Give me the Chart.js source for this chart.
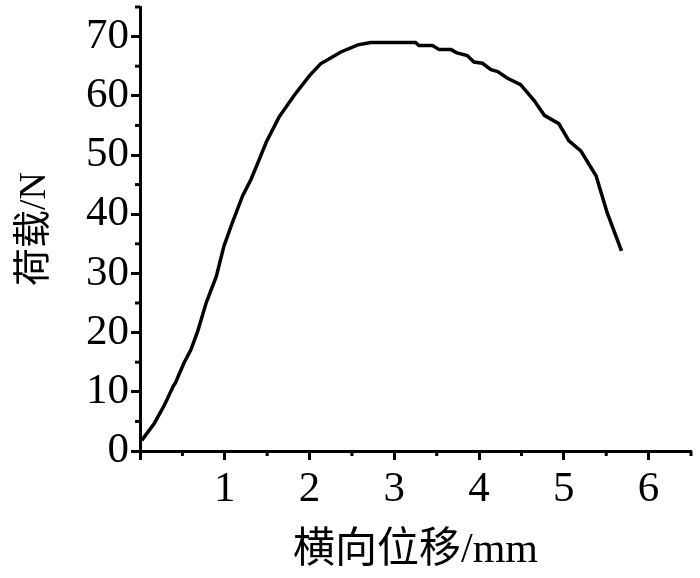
<!DOCTYPE html>
<html>
<head>
<meta charset="utf-8">
<script src="https://cdn.jsdelivr.net/npm/chart.js@4.4.0/dist/chart.umd.min.js"></script>
<style>
  body { margin: 0; background: #fff; }
  #wrap { width: 700px; height: 578px; }
</style>
</head>
<body>
<div id="wrap"><canvas id="chart"></canvas></div>
<script>
// 横向位移 (mm) vs 荷载 (N)
const displacement = [0.02, 0.17, 0.29, 0.39, 0.42, 0.52, 0.60, 0.68, 0.78, 0.90, 0.99, 1.09, 1.21,
  1.31, 1.40, 1.49, 1.64, 1.82, 2.00, 2.13, 2.37, 2.57, 2.72, 2.84, 3.25, 3.29, 3.45, 3.53,
  3.67, 3.73, 3.86, 3.94, 4.04, 4.14, 4.22, 4.33, 4.49, 4.65, 4.77, 4.94, 5.06, 5.20, 5.38,
  5.51, 5.68];
const load = [1.8, 4.7, 7.8, 10.9, 11.6, 14.9, 17.1, 20.2, 25.0, 29.5, 34.6, 38.6, 43.1,
  45.9, 49.0, 52.2, 56.4, 60.1, 63.4, 65.4, 67.4, 68.6, 69.0, 69.0, 69.0, 68.5, 68.5, 67.8,
  67.8, 67.3, 66.8, 65.7, 65.5, 64.4, 64.1, 63.0, 61.9, 59.2, 56.7, 55.3, 52.4, 50.7, 46.5,
  40.3, 33.8];

const xMajor = [0, 1, 2, 3, 4, 5, 6];
const xMinor = [0.5, 1.5, 2.5, 3.5, 4.5, 5.5, 6.5];
const yMajor = [0, 10, 20, 30, 40, 50, 60, 70];
const yMinor = [5, 15, 25, 35, 45, 55, 65, 75];

const xTitle = '横向位移/mm';
const yTitle = '荷载/N';

const fontFam = "'Liberation Serif', 'Noto Sans CJK SC', serif";

// short minor ticks drawn outward from the axes
const minorTicks = {
  id: 'minorTicks',
  afterDraw(chart) {
    const ctx = chart.ctx;
    const xs = chart.scales.x, ys = chart.scales.y;
    const a = chart.chartArea;
    ctx.save();
    ctx.strokeStyle = '#000';
    ctx.lineWidth = 3;
    xMinor.forEach(v => {
      const px = xs.getPixelForValue(v);
      ctx.beginPath();
      ctx.moveTo(px, a.bottom);
      ctx.lineTo(px, a.bottom + 5);
      ctx.stroke();
    });
    yMinor.forEach(v => {
      const py = ys.getPixelForValue(v);
      ctx.beginPath();
      ctx.moveTo(a.left, py);
      ctx.lineTo(a.left - 5, py);
      ctx.stroke();
    });
    ctx.restore();
  }
};

const ctx = document.getElementById('chart').getContext('2d');
new Chart(ctx, {
  type: 'line',
  data: {
    datasets: [{
      data: displacement.map((x, i) => ({ x: x, y: load[i] })),
      borderColor: '#000',
      borderWidth: 3.5,
      pointRadius: 0,
      tension: 0,
      fill: false
    }]
  },
  options: {
    responsive: true,
    maintainAspectRatio: false,
    animation: false,
    layout: { padding: { top: 7, right: 9 } },
    plugins: { legend: { display: false }, tooltip: { enabled: false } },
    scales: {
      x: {
        type: 'linear',
        min: 0,
        max: 6.5,
        afterBuildTicks: s => { s.ticks = xMajor.map(v => ({ value: v })); },
        afterFit: s => { s.height = 127; s.paddingLeft = 0; s.paddingRight = 0; },
        border: { display: true, color: '#000', width: 3 },
        grid: { drawOnChartArea: false, drawTicks: true, tickLength: 9, tickWidth: 3, tickColor: '#000' },
        ticks: {
          color: '#000',
          padding: 4,
          maxRotation: 0,
          font: { family: fontFam, size: 43 },
          callback: v => (v === 0 ? '' : v)
        },
        title: {
          display: true,
          text: xTitle,
          color: '#000',
          font: { family: fontFam, size: 42 },
          padding: { top: 0, bottom: 2 }
        }
      },
      y: {
        min: 0,
        max: 75,
        afterBuildTicks: s => { s.ticks = yMajor.map(v => ({ value: v })); },
        afterFit: s => { s.width = 140; s.paddingTop = 0; s.paddingBottom = 0; },
        border: { display: true, color: '#000', width: 3 },
        grid: { drawOnChartArea: false, drawTicks: true, tickLength: 9, tickWidth: 3, tickColor: '#000' },
        ticks: {
          color: '#000',
          padding: 2,
          font: { family: fontFam, size: 43 }
        },
        title: {
          display: true,
          text: yTitle,
          color: '#000',
          font: { family: fontFam, size: 38 },
          padding: { top: 12, bottom: 0 }
        }
      }
    }
  },
  plugins: [minorTicks]
});
</script>
</body>
</html>
